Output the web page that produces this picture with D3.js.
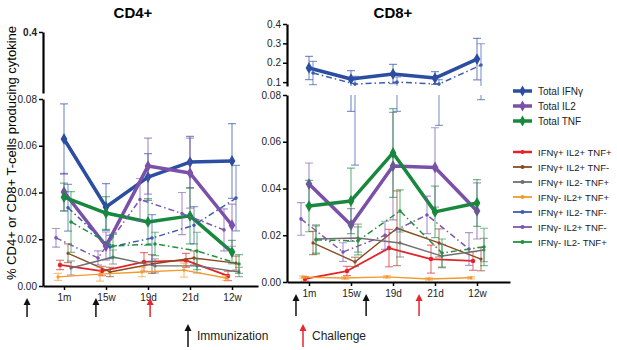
<!DOCTYPE html>
<html>
<head>
<meta charset="utf-8">
<script src="https://cdn.jsdelivr.net/npm/d3@7"></script>
<style>
body { margin: 0; background: #fff; }
text { font-family: "Liberation Sans", Arial, sans-serif; }
</style>
</head>
<body>
<svg id="chart" width="617" height="350"></svg>
<script>
// Time points on the x axis
var timepoints = ['1m', '15w', '19d', '21d', '12w'];

// CD4+ values (fraction of cells) and error half-widths
var cd4TotIFNg = [0.0629, 0.0338, 0.0466, 0.0530, 0.0535];
var cd4TotIFNgErr = [0.015, 0.010, 0.010, 0.011, 0.016];
var cd4TotIL2 = [0.0402, 0.0171, 0.0513, 0.0483, 0.0260];
var cd4TotIL2Err = [0.008, 0.006, 0.012, 0.015, 0.009];
var cd4TotTNF = [0.0380, 0.0312, 0.0274, 0.0300, 0.0145];
var cd4TotTNFErr = [0.006, 0.007, 0.010, 0.012, 0.005];
var cd4PPP = [0.0090, 0.0064, 0.0103, 0.0110, 0.0043];
var cd4PPPErr = [0.002, 0.002, 0.004, 0.003, 0.002];
var cd4PPM = [0.0140, 0.0060, 0.0094, 0.0120, 0.0098];
var cd4PPMErr = [0.004, 0.002, 0.004, 0.003, 0.003];
var cd4PMP = [0.0077, 0.0124, 0.0086, 0.0086, 0.0060];
var cd4PMPErr = [0.003, 0.003, 0.003, 0.003, 0.002];
var cd4MPP = [0.0039, 0.0051, 0.0060, 0.0068, 0.0034];
var cd4MPPErr = [0.0015, 0.003, 0.002, 0.003, 0.001];
var cd4PMM = [0.0335, 0.0167, 0.0205, 0.0260, 0.0376];
var cd4PMMErr = [0.010, 0.005, 0.010, 0.008, 0.014];
var cd4MPM = [0.0206, 0.0120, 0.0370, 0.0310, 0.0240];
var cd4MPMErr = [0.004, 0.003, 0.009, 0.009, 0.009];
var cd4MMP = [0.0274, 0.0171, 0.0180, 0.0150, 0.0094];
var cd4MMPErr = [0.013, 0.005, 0.005, 0.008, 0.004];

// CD8+ values
var cd8TotIFNg = [0.173, 0.116, 0.142, 0.121, 0.219];
var cd8TotIFNgErr = [0.060, 0.043, 0.050, 0.033, 0.107];
var cd8TotIL2 = [0.0419, 0.0244, 0.0496, 0.0490, 0.0304];
var cd8TotIL2Err = [0.009, 0.007, 0.023, 0.017, 0.012];
var cd8TotTNF = [0.0325, 0.0347, 0.0552, 0.0300, 0.0338];
var cd8TotTNFErr = [0.011, 0.014, 0.019, 0.011, 0.010];
var cd8PPP = [0.0013, 0.0047, 0.0145, 0.0098, 0.0090];
var cd8PPPErr = [0.001, 0.002, 0.008, 0.006, 0.004];
var cd8PPM = [0.0167, 0.0086, 0.0230, 0.0167, 0.0098];
var cd8PPMErr = [0.005, 0.002, 0.016, 0.006, 0.005];
var cd8PMP = [0.0184, 0.0188, 0.0167, 0.0111, 0.0137];
var cd8PMPErr = [0.006, 0.006, 0.006, 0.005, 0.005];
var cd8MPP = [0.0021, 0.0017, 0.0022, 0.0013, 0.0018];
var cd8MPPErr = [0.0005, 0.0005, 0.0005, 0.0005, 0.0005];
var cd8PMM = [0.147, 0.090, 0.100, 0.090, 0.188];
var cd8PMMErr = [0.060, 0.040, 0.027, 0.023, 0.110];
var cd8MPM = [0.0270, 0.0128, 0.0200, 0.0287, 0.0141];
var cd8MPMErr = [0.007, 0.004, 0.006, 0.008, 0.007];
var cd8MMP = [0.0180, 0.0176, 0.0304, 0.0124, 0.0150];
var cd8MMPErr = [0.006, 0.006, 0.009, 0.006, 0.008];

// Arrow positions, in x-axis index units
var cd4Immunization = [-0.88, 0.76];
var cd4Challenge = [2.05];
var cd8Immunization = [-0.31, 1.36];
var cd8Challenge = [2.62];

// Series styling
var series = [
	{key: 'totIFNg', label: 'Total IFNγ', color: '#2b4ea2', w: 3.5, dash: null, dx: 0, size: 40},
	{key: 'totIL2', label: 'Total IL2', color: '#7a50a8', w: 3.5, dash: null, dx: 0, size: 40},
	{key: 'totTNF', label: 'Total TNF', color: '#17883d', w: 3.5, dash: null, dx: 0, size: 40},
	{key: 'ppp', label: 'IFNγ+ IL2+ TNF+', color: '#e3232a', w: 1.8, dash: null, dx: -4, size: 16},
	{key: 'ppm', label: 'IFNγ+ IL2+ TNF-', color: '#8a4b22', w: 1.4, dash: null, dx: 4, size: 8},
	{key: 'pmp', label: 'IFNγ+ IL2- TNF+', color: '#707070', w: 1.4, dash: null, dx: 7, size: 8},
	{key: 'mpp', label: 'IFNγ- IL2+ TNF+', color: '#f39a2c', w: 1.4, dash: null, dx: -6, size: 8},
	{key: 'pmm', label: 'IFNγ+ IL2- TNF-', color: '#3f5bb0', w: 1.5, dash: '6,3,1.5,3', dx: 4, size: 10},
	{key: 'mpm', label: 'IFNγ- IL2+ TNF-', color: '#7d56b0', w: 1.5, dash: '6,3,1.5,3', dx: -8, size: 10},
	{key: 'mmp', label: 'IFNγ- IL2- TNF+', color: '#22913f', w: 1.5, dash: '6,3,1.5,3', dx: 7, size: 10}
];

var cd4Data = {
	totIFNg: [cd4TotIFNg, cd4TotIFNgErr], totIL2: [cd4TotIL2, cd4TotIL2Err], totTNF: [cd4TotTNF, cd4TotTNFErr],
	ppp: [cd4PPP, cd4PPPErr], ppm: [cd4PPM, cd4PPMErr], pmp: [cd4PMP, cd4PMPErr], mpp: [cd4MPP, cd4MPPErr],
	pmm: [cd4PMM, cd4PMMErr], mpm: [cd4MPM, cd4MPMErr], mmp: [cd4MMP, cd4MMPErr]
};
var cd8Data = {
	totIFNg: [cd8TotIFNg, cd8TotIFNgErr], totIL2: [cd8TotIL2, cd8TotIL2Err], totTNF: [cd8TotTNF, cd8TotTNFErr],
	ppp: [cd8PPP, cd8PPPErr], ppm: [cd8PPM, cd8PPMErr], pmp: [cd8PMP, cd8PMPErr], mpp: [cd8MPP, cd8MPPErr],
	pmm: [cd8PMM, cd8PMMErr], mpm: [cd8MPM, cd8MPMErr], mmp: [cd8MMP, cd8MMPErr]
};

var svg = d3.select('#chart');
var breakAt = 0.08;

function drawArrow(g, x, yTip, yBase, color) {
	g.append('line')
		.attr('x1', x).attr('x2', x)
		.attr('y1', yBase).attr('y2', yTip + 5)
		.attr('stroke', color).attr('stroke-width', 1.5);
	g.append('path')
		.attr('d', 'M' + x + ',' + yTip + 'L' + (x - 3.5) + ',' + (yTip + 7) + 'L' + (x + 3.5) + ',' + (yTip + 7) + 'Z')
		.attr('fill', color);
}

function drawPanel(p) {
	var g = svg.append('g');
	var step = (p.x1 - p.x0) / 4;
	var x = d3.scaleLinear()
		.domain([-(p.x0 - p.axisX) / step, 4 + (p.xEnd - p.x1) / step])
		.range([p.axisX, p.xEnd]);
	var yLo = d3.scaleLinear().domain([0, breakAt]).range(p.yLo);
	var yUp = d3.scaleLinear().domain([breakAt, 0.4]).range(p.yUp);
	var yOf = v => v >= breakAt ? yUp(v) : yLo(v);

	// y axes (broken)
	var axLo = g.append('g').attr('transform', 'translate(' + p.axisX + ',0)')
		.call(d3.axisLeft(yLo).tickValues([0, 0.02, 0.04, 0.06, 0.08]).tickFormat(d3.format('.2f')).tickSize(4).tickSizeOuter(0));
	var axUp = g.append('g').attr('transform', 'translate(' + p.axisX + ',0)')
		.call(d3.axisLeft(yUp).tickValues(p.upTicks).tickFormat(d3.format('.1f')).tickSize(4).tickSizeOuter(0));
	[axLo, axUp].forEach(a => {
		a.select('.domain').attr('stroke-width', 2.2);
		a.selectAll('.tick line').attr('stroke-width', 1.5);
		a.selectAll('.tick text').attr('font-size', 10).attr('x', -6).attr('fill', '#222');
	});
	axUp.selectAll('.tick text').attr('font-weight', p.upBold ? 'bold' : 'normal');

	// x axis
	var xAx = g.append('g').attr('transform', 'translate(0,' + p.yLo[0] + ')')
		.call(d3.axisBottom(x).tickValues(d3.range(timepoints.length)).tickFormat(i => timepoints[i]).tickSize(4).tickSizeOuter(0));
	xAx.select('.domain').attr('stroke-width', 2.2);
	xAx.selectAll('.tick line').attr('stroke-width', 1.5);
	xAx.selectAll('.tick text').attr('font-size', 10).attr('y', 8).attr('fill', '#222');

	// title
	g.append('text').attr('x', p.titleX).attr('y', 18).attr('text-anchor', 'middle')
		.attr('font-size', 15).attr('font-weight', 'bold').text(p.title);

	// clip to the two parts of the broken axis
	var clipId = 'clip-' + p.title.replace('+', '');
	var cp = svg.append('clipPath').attr('id', clipId);
	cp.append('rect').attr('x', p.axisX).attr('y', 0).attr('width', 330).attr('height', p.yUp[0] + 1);
	cp.append('rect').attr('x', p.axisX).attr('y', p.yLo[1] - 1).attr('width', 330).attr('height', p.yLo[0] - p.yLo[1] + 1);
	var plot = g.append('g').attr('clip-path', 'url(#' + clipId + ')');

	series.forEach(s => {
		var vals = p.data[s.key][0];
		var errs = p.data[s.key][1];
		var pts = vals.map((v, i) => ({px: x(i) + s.dx, v: v, e: errs[i]}));
		var eg = plot.append('g').attr('stroke', s.color).attr('stroke-opacity', 0.6).attr('stroke-width', 1.2);
		pts.forEach(d => {
			var lo = Math.max(0, d.v - d.e), hi = d.v + d.e;
			// split the bar at the axis break
			if (hi > breakAt) {
				eg.append('line').attr('x1', d.px).attr('x2', d.px)
					.attr('y1', yUp(Math.max(lo, breakAt))).attr('y2', yUp(hi));
			}
			if (lo < breakAt) {
				eg.append('line').attr('x1', d.px).attr('x2', d.px)
					.attr('y1', yLo(lo)).attr('y2', yLo(Math.min(hi, breakAt)));
			}
			[lo, hi].forEach(c => {
				eg.append('line').attr('x1', d.px - 4).attr('x2', d.px + 4)
					.attr('y1', yOf(c)).attr('y2', yOf(c));
			});
		});
		plot.append('path').datum(pts)
			.attr('d', d3.line().x(d => d.px).y(d => yOf(d.v)))
			.attr('fill', 'none').attr('stroke', s.color).attr('stroke-width', s.w)
			.attr('stroke-dasharray', s.dash).attr('stroke-linejoin', 'round');
		plot.selectAll(null).data(pts).enter().append('path')
			.attr('transform', d => 'translate(' + d.px + ',' + yOf(d.v) + ')')
			.attr('d', d3.symbol(s.size > 20 ? d3.symbolDiamond : d3.symbolCircle, s.size))
			.attr('fill', s.color);
	});

	p.immunization.forEach(a => drawArrow(g, x(a), p.arrowTip, p.arrowBase, '#111'));
	p.challenge.forEach(a => drawArrow(g, x(a), p.arrowTip, p.arrowBase, '#e8262e'));
}

drawPanel({
	title: 'CD4+', titleX: 133, data: cd4Data,
	axisX: 43, x0: 64, x1: 232, xEnd: 258,
	yLo: [286, 99], yUp: [93, 32], upTicks: [0.4], upBold: true,
	immunization: cd4Immunization, challenge: cd4Challenge, arrowTip: 298, arrowBase: 317
});

drawPanel({
	title: 'CD8+', titleX: 393, data: cd8Data,
	axisX: 287, x0: 309, x1: 477, xEnd: 510,
	yLo: [282, 95], yUp: [86, 24], upTicks: [0.1, 0.2, 0.3, 0.4], upBold: false,
	immunization: cd8Immunization, challenge: cd8Challenge, arrowTip: 294, arrowBase: 316
});

// y axis title
svg.append('text')
	.attr('transform', 'translate(16,153) rotate(-90)')
	.attr('text-anchor', 'middle').attr('font-size', 13)
	.text('% CD4+  or CD8+  T-cells producing cytokine');

// legends
var leg = svg.append('g');
series.forEach((s, i) => {
	var y = i < 3 ? 91 + i * 15 : 152 + (i - 3) * 15;
	leg.append('line').attr('x1', 513).attr('x2', 532).attr('y1', y).attr('y2', y)
		.attr('stroke', s.color).attr('stroke-width', i < 3 ? 3.5 : (s.key === 'ppp' ? 2.5 : 1.8));
	leg.append('path').attr('transform', 'translate(522.5,' + y + ')')
		.attr('d', d3.symbol(i < 3 ? d3.symbolDiamond : d3.symbolCircle, i < 3 ? 34 : 14))
		.attr('fill', s.color);
	leg.append('text').attr('x', 538).attr('y', y + 3.5)
		.attr('font-size', i < 3 ? 10 : 9.5).attr('fill', '#222').text(s.label);
});

// arrow key
drawArrow(svg, 188, 324, 347, '#111');
svg.append('text').attr('x', 197).attr('y', 340).attr('font-size', 12).attr('fill', '#222').text('Immunization');
drawArrow(svg, 303, 324, 347, '#e8262e');
svg.append('text').attr('x', 312).attr('y', 340).attr('font-size', 12).attr('fill', '#222').text('Challenge');
</script>
</body>
</html>
